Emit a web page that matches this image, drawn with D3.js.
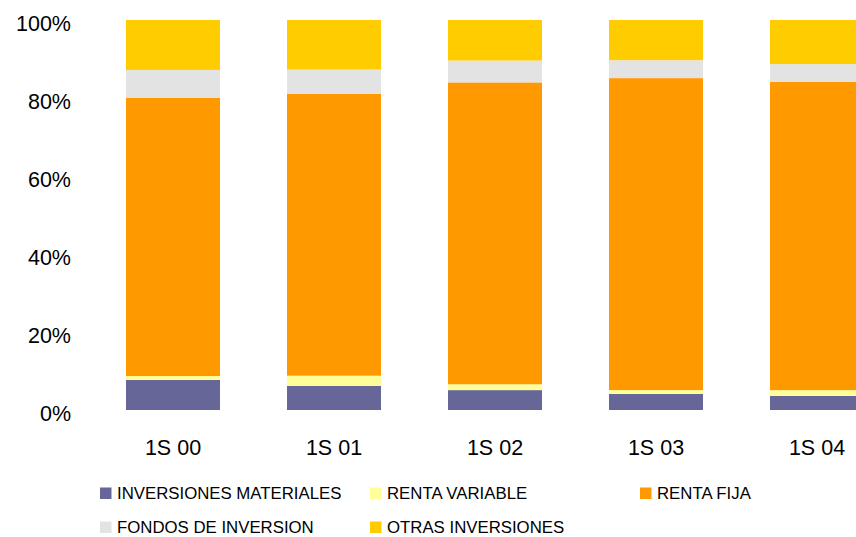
<!DOCTYPE html>
<html>
<head>
<meta charset="utf-8">
<script src="https://cdn.jsdelivr.net/npm/d3@7"></script>
<style>
  html, body { margin: 0; padding: 0; background: #fff; }
  svg { display: block; font-family: "Liberation Sans", Arial, sans-serif; }
</style>
</head>
<body>
<svg id="chart" width="856" height="537"></svg>
<script>
// Composition of the investment portfolio, first half of each year (share of total, %)
const categories = ["1S 00", "1S 01", "1S 02", "1S 03", "1S 04"];
const seriesNames = ["INVERSIONES MATERIALES", "RENTA VARIABLE", "RENTA FIJA", "FONDOS DE INVERSION", "OTRAS INVERSIONES"];
const inversionesMateriales = [7.7, 6.2, 5.1, 4.1, 3.6];
const rentaVariable         = [1.0, 2.6, 1.5, 1.0, 1.5];
const rentaFija             = [71.3, 72.3, 77.4, 80.0, 79.0];
const fondosInversion       = [7.2, 6.2, 5.6, 4.6, 4.6];
const otrasInversiones      = [12.8, 12.7, 10.4, 10.3, 11.3];
const yTicks = [0, 0.2, 0.4, 0.6, 0.8, 1.0];
const colors = ["#666699", "#FFFF99", "#FF9900", "#E3E3E3", "#FFCC00"];

const seriesValues = [inversionesMateriales, rentaVariable, rentaFija, fondosInversion, otrasInversiones];
const rows = categories.map((c, i) => {
  const r = { cat: c };
  const total = d3.sum(seriesValues, s => s[i]);
  seriesNames.forEach((n, k) => { r[n] = seriesValues[k][i] / total; });
  return r;
});

const svg = d3.select("#chart");

const step = 161, barW = 94, firstBar = 126;
const pad = 1 - barW / step;
const x = d3.scaleBand()
  .domain(categories)
  .range([firstBar - step * pad / 2, firstBar - step * pad / 2 + step * categories.length])
  .paddingInner(pad)
  .paddingOuter(pad / 2);

const y = d3.scaleLinear().domain([0, 1]).range([410, 20]);

const stack = d3.stack().keys(seriesNames);
const layers = stack(rows);

svg.append("g")
  .selectAll("g")
  .data(layers)
  .join("g")
  .attr("fill", (d, i) => colors[i])
  .selectAll("rect")
  .data(d => d)
  .join("rect")
  .attr("x", d => x(d.data.cat))
  .attr("width", x.bandwidth())
  .attr("y", d => y(d[1]))
  .attr("height", d => y(d[0]) - y(d[1]));

// Y axis: labels only
const yAxis = svg.append("g")
  .attr("transform", "translate(71,0)")
  .call(d3.axisLeft(y).tickValues(yTicks).tickFormat(d3.format(".0%")).tickSize(0).tickPadding(0));
yAxis.select(".domain").remove();
yAxis.selectAll("text")
  .attr("font-size", 21.5)
  .attr("font-family", "Liberation Sans, Arial, sans-serif")
  .attr("fill", "#000")
  .attr("dy", "0.32em")
  .attr("transform", "translate(0,4)");

// X axis: category labels
const xAxis = svg.append("g")
  .attr("transform", "translate(0,447)")
  .call(d3.axisBottom(x).tickSize(0).tickPadding(0));
xAxis.select(".domain").remove();
xAxis.selectAll("text")
  .attr("font-size", 21.5)
  .attr("font-family", "Liberation Sans, Arial, sans-serif")
  .attr("fill", "#000")
  .attr("y", 0)
  .attr("dy", "0.35em");

// Legend in a 3-column grid
const legendCols = [100, 370, 640];
const legendRows = [493, 527];
const legend = svg.append("g")
  .selectAll("g")
  .data(seriesNames)
  .join("g")
  .attr("transform", (d, i) => `translate(${legendCols[i % 3]},${legendRows[Math.floor(i / 3)]})`);
legend.append("rect")
  .attr("x", 0).attr("y", -5.5)
  .attr("width", 11.5).attr("height", 11.5)
  .attr("fill", (d, i) => colors[i]);
legend.append("text")
  .attr("x", 17)
  .attr("y", 0)
  .attr("dy", "0.35em")
  .attr("font-size", 16.8)
  .attr("fill", "#000")
  .text(d => d);
</script>
</body>
</html>
